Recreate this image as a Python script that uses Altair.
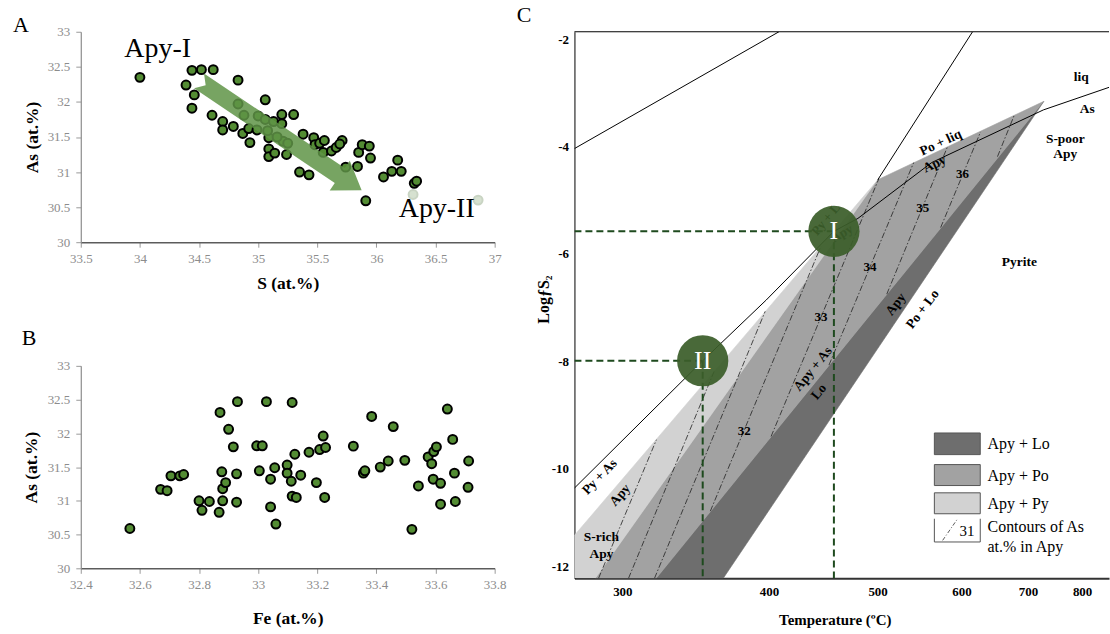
import altair as alt
import pandas as pd

FONT = "Liberation Serif"
PT_GREEN = "#538c33"
ARROW_GREEN = "#5f9446"
DISK_GREEN = "#3b5e2a"
GUIDE_GREEN = "#1e4a1e"
DARK, MID, LIGHT = "#6e6e6e", "#a2a2a2", "#d2d2d2"

# ---------------- Panel A : As vs S (at.%) ----------------
A_S = [34.00, 34.44, 34.52, 34.62, 34.83, 34.39, 34.46, 34.44, 34.61, 34.70,
       34.70, 34.79, 34.83, 34.88, 34.87, 34.92, 34.93, 35.00, 34.99, 35.06,
       35.06, 35.09, 35.09, 35.09, 35.14, 35.13, 35.20, 35.20, 35.21, 35.25,
       35.24, 35.30, 35.35, 35.43, 35.38, 35.47, 35.48, 35.52, 35.56, 35.55,
       35.62, 35.66, 35.71, 35.69, 35.74, 35.84, 35.85, 35.88, 35.94, 35.95,
       35.91, 36.06, 36.13, 36.21, 36.18, 36.32, 36.34, 35.08, 35.16]
A_As = [32.35, 32.45, 32.46, 32.46, 32.31, 32.24, 32.10, 31.91, 31.81, 31.72,
        31.60, 31.65, 31.97, 31.81, 31.55, 31.62, 31.42, 31.80, 31.60, 32.03,
        31.75, 31.49, 31.33, 31.22, 31.27, 31.72, 31.82, 31.69, 31.44, 31.41,
        31.25, 31.82, 31.00, 30.96, 31.54, 31.49, 31.39, 31.41, 31.45, 31.28,
        31.30, 31.35, 31.45, 31.40, 31.07, 31.08, 31.28, 31.39, 31.37, 31.20,
        30.59, 30.93, 31.01, 31.01, 31.17, 30.84, 30.87, 31.59, 31.50]
A_pale_S = [36.31, 36.86]
A_pale_As = [30.68, 30.60]
A_x_ticks = [33.5, 34, 34.5, 35, 35.5, 36, 36.5, 37]
A_y_ticks = [30, 30.5, 31, 31.5, 32, 32.5, 33]
# trend arrow outline (S, As)
A_arrow_S = [34.542, 35.732, 35.775, 35.875, 35.605, 35.648, 34.458, 34.556]
A_arrow_As = [32.406, 31.056, 31.162, 30.740, 30.738, 30.844, 32.194, 32.236]
A_group_labels = ["Apy-I", "Apy-II"]
A_group_S = [34.15, 36.51]
A_group_As = [32.75, 30.475]

# ---------------- Panel B : As vs Fe (at.%) ----------------
B_Fe = [32.566, 32.670, 32.692, 32.705, 32.735, 32.748, 32.80, 32.81, 32.835, 32.868,
        32.88, 32.88, 32.89, 32.877, 32.871, 32.90, 32.93, 32.916, 32.927, 32.927,
        32.995, 33.014, 33.004, 33.028, 33.042, 33.042, 33.056, 33.06, 33.098, 33.098,
        33.115, 33.112, 33.115, 33.129, 33.124, 33.144, 33.172, 33.197, 33.208, 33.22,
        33.228, 33.225, 33.322, 33.356, 33.361, 33.384, 33.413, 33.44, 33.457, 33.496,
        33.52, 33.542, 33.575, 33.587, 33.594, 33.603, 33.592, 33.617, 33.617, 33.64,
        33.658, 33.664, 33.667, 33.712, 33.71]
B_As = [30.59, 31.17, 31.15, 31.37, 31.37, 31.39, 31.00, 30.86, 30.99, 30.83,
        31.00, 31.18, 31.27, 31.43, 32.31, 32.06, 32.47, 31.80, 31.40, 30.98,
        31.815, 31.815, 31.445, 32.47, 31.32, 30.91, 31.49, 30.656, 31.53, 31.41,
        32.457, 31.29, 31.07, 31.05, 31.69, 31.38, 31.72, 31.27, 31.76, 31.96,
        31.79, 31.05, 31.81, 31.41, 31.445, 32.25, 31.50, 31.59, 32.10, 31.60,
        30.577, 31.22, 31.65, 31.55, 31.73, 31.80, 31.32, 31.26, 30.95, 32.36,
        31.91, 31.41, 30.99, 31.59, 31.20]
B_x_ticks = [32.4, 32.6, 32.8, 33, 33.2, 33.4, 33.6, 33.8]

# ---------------- Panel C : log fS2 vs T (1/T axis) ----------------
C_x_ticks = [300, 400, 500, 600, 700, 800]
C_y_ticks = [-2, -4, -6, -8, -10, -12]
C_T_range = [273.46, 857.7]
C_logf_range = [-12.04, -1.865]

C_light_T = [273.46, 273.46, 500.2, 284.9]
C_light_logf = [-12.04, -11.24, -4.62, -12.04]
C_mid_T = [500.2, 727.4, 320.5, 284.9]
C_mid_logf = [-4.62, -3.16, -12.04, -12.04]
C_dark_T = [727.4, 365.3, 320.5]
C_dark_logf = [-3.16, -12.04, -12.04]

C_line1_T = [273.46, 408.1]
C_line1_logf = [-4.04, -1.865]
C_line2_T = [615.3, 500.2]
C_line2_logf = [-1.865, -4.62]
C_curve_T = [273.46, 350.8, 397.8, 456.4, 479.7, 561.7, 726.5, 857.7]
C_curve_logf = [-10.36, -7.99, -6.86, -5.58, -5.34, -4.30, -3.32, -2.90]

C_cont_T1 = [286.5, 303.6, 319.3, 356.1, 401.7, 451.8, 509.8, 572.9, 651.5]
C_cont_L1 = [-12.04, -12.04, -12.04, -10.79, -9.40, -8.07, -6.75, -5.51, -4.19]
C_cont_T2 = [320.5, 358.9, 397.0, 444.4, 501.3, 540.1, 581.8, 626.6, 677.9]
C_cont_L2 = [-9.46, -8.18, -7.07, -5.86, -4.60, -4.30, -4.00, -3.73, -3.41]
C_cont_labels = ["32", "33", "34", "35", "36"]
C_cont_lab_T = [380.7, 444.4, 491.9, 550.8, 601.6]
C_cont_lab_L = [-9.29, -7.18, -6.25, -5.14, -4.52]

C_disk_labels = ["I", "II"]
C_disk_T = [456.4, 350.8]
C_disk_logf = [-5.58, -7.99]

C_text = ["liq", "As", "S-poor", "Apy", "Pyrite", "Po + liq", "Apy", "Po + Lo", "Apy",
          "Lo", "Apy + As", "Py + As", "Apy", "S-rich", "Apy"]
C_text_T = [798.3, 810.6, 766.9, 766.9, 685.9, 572.9, 565.4, 550.8, 519.7,
            442.6, 437.2, 287.1, 298.7, 288.1, 288.1]
C_text_logf = [-2.71, -3.30, -3.86, -4.15, -6.16, -3.93, -4.33, -7.03, -6.94,
               -8.57, -8.14, -10.15, -10.49, -11.28, -11.59]
C_text_angle = [0, 0, 0, 0, 0, 335, 335, 307, 307, 309, 309, 314, 311, 0, 0]
C_under_text = ["Py + L", "Apy"]
C_under_T = [449.0, 464.0]
C_under_logf = [-5.36, -5.62]
C_under_angle = [310, 330]

C_legend_labels = ["Apy + Lo", "Apy + Po", "Apy + Py", "Contours of As", "at.% in Apy"]
C_legend_value = "31"

U = "1000/(datum.T + 273.15)"
U2 = "1000/(datum.T2 + 273.15)"
ONE = pd.DataFrame({"k": [0]})


def txt(s):
    return pd.DataFrame({"t": [s]})


# ================= Panel A / B =================
def ab_axes(x_title, x_values, x_title_y, y_title_x, y_mid):
    ax = alt.Axis(values=x_values, title=x_title, grid=False, labelExpr="toString(datum.value)",
                  labelFlush=False, labelOverlap=False, labelFont=FONT, labelFontSize=13,
                  labelColor="#8c8c8c", labelPadding=5, tickSize=5, tickColor="#9a9a9a",
                  domainColor="#5c5c5c", domainWidth=1.5, titleFont=FONT, titleFontSize=17.5,
                  titleFontWeight="bold", titleColor="black", titleY=x_title_y,
                  titleBaseline="middle")
    ay = alt.Axis(values=A_y_ticks, title="As (at.%)", grid=False, labelExpr="toString(datum.value)",
                  labelFlush=False, labelOverlap=False, labelFont=FONT, labelFontSize=13,
                  labelColor="#8c8c8c", labelPadding=6, tickSize=5, tickColor="#9a9a9a",
                  domainColor="#8c8c8c", domainWidth=1.2, titleFont=FONT, titleFontSize=17.5,
                  titleFontWeight="bold", titleColor="black", titleX=y_title_x, titleY=y_mid,
                  titleBaseline="middle", titleAngle=270)
    return ax, ay


axA_x, axA_y = ab_axes("S (at.%)", A_x_ticks, 41, -48, 105.5)
xA = alt.X("S:Q", scale=alt.Scale(domain=[33.5, 37], nice=False, zero=False), axis=axA_x)
yA = alt.Y("As:Q", scale=alt.Scale(domain=[30, 33], nice=False, zero=False), axis=axA_y)

dfA = pd.DataFrame({"S": A_S, "As": A_As})
dfA_pale = pd.DataFrame({"S": A_pale_S, "As": A_pale_As})
dfA_arrow = pd.DataFrame({"S": A_arrow_S, "As": A_arrow_As, "i": list(range(len(A_arrow_S)))})
dfA_lab = pd.DataFrame({"S": A_group_S, "As": A_group_As, "label": A_group_labels})

anchor = alt.Chart(ONE).mark_rule(color="white", strokeWidth=1).encode(
    x=alt.value(-80.5), x2=alt.value(-79.5), y=alt.value(-30.5))

A_pts = alt.Chart(dfA).mark_point(shape="circle", filled=True, size=80, fill=PT_GREEN,
                                  stroke="black", strokeWidth=2, opacity=1).encode(x=xA, y=yA)
A_pale = alt.Chart(dfA_pale).mark_point(shape="circle", filled=True, size=80, fill="#d6e1d0",
                                        stroke="#c9d4c3", strokeWidth=2, opacity=1).encode(x=xA, y=yA)
A_arrow = alt.Chart(dfA_arrow).mark_line(fill=ARROW_GREEN, fillOpacity=0.85, strokeOpacity=0).encode(
    x=xA, y=yA, order="i:Q")
A_lab = alt.Chart(dfA_lab).mark_text(font=FONT, fontSize=28, color="black", align="center",
                                     baseline="middle").encode(x=xA, y=yA, text="label:N")
A_letter = alt.Chart(txt("A")).mark_text(font=FONT, fontSize=22, color="black", align="left",
                                         baseline="alphabetic").encode(
    x=alt.value(-68), y=alt.value(0), text="t:N")

chartA = alt.layer(anchor, A_pts, A_pale, A_arrow, A_lab, A_letter).properties(width=415, height=211)

axB_x, axB_y = ab_axes("Fe (at.%)", B_x_ticks, 50, -49, 101.5)
xB = alt.X("Fe:Q", scale=alt.Scale(domain=[32.4, 33.8], nice=False, zero=False), axis=axB_x)
yB = alt.Y("As:Q", scale=alt.Scale(domain=[30, 33], nice=False, zero=False), axis=axB_y)
dfB = pd.DataFrame({"Fe": B_Fe, "As": B_As})
B_pts = alt.Chart(dfB).mark_point(shape="circle", filled=True, size=80, fill=PT_GREEN,
                                  stroke="black", strokeWidth=2, opacity=1).encode(x=xB, y=yB)
B_letter = alt.Chart(txt("B")).mark_text(font=FONT, fontSize=22, color="black", align="left",
                                         baseline="alphabetic").encode(
    x=alt.value(-59.3), y=alt.value(-20.7), text="t:N")
chartB = alt.layer(B_pts, B_letter).properties(width=415, height=203)

# ================= Panel C =================
W_C, H_C = 536, 548
xC_scale = alt.Scale(domain=[1000 / (C_T_range[1] + 273.15), 1000 / (C_T_range[0] + 273.15)],
                     reverse=True, nice=False, zero=False)
yC_scale = alt.Scale(domain=C_logf_range, nice=False, zero=False)
xC_axis = alt.Axis(values=[1000 / (t + 273.15) for t in C_x_ticks],
                   labelExpr="format(1000/datum.value - 273.15, '.0f')",
                   title="Temperature (ºC)", grid=False, tickSize=0, labelPadding=7,
                   labelFlush=False, labelOverlap=False, labelFont=FONT, labelFontSize=13,
                   labelFontWeight="bold", labelColor="black", domainColor="#333333", domainWidth=2,
                   titleFont=FONT, titleFontSize=15, titleFontWeight="bold", titleColor="black",
                   titleX=261, titleY=41, titleBaseline="middle")
yC_axis = alt.Axis(values=C_y_ticks, labelExpr="toString(datum.value)", title="LogƒS₂",
                   grid=False, tickSize=0, labelPadding=6, labelFlush=False, labelOverlap=False,
                   labelOffset={"condition": {"test": "datum.value == -12", "value": -10}, "value": 0},
                   labelFont=FONT, labelFontSize=13, labelFontWeight="bold", labelColor="black",
                   domainColor="black", domainWidth=1, titleFont=FONT, titleFontSize=16,
                   titleFontWeight="bold", titleColor="black", titleX=-31, titleY=268,
                   titleBaseline="middle", titleAngle=270)
XC = alt.X("u:Q", scale=xC_scale, axis=xC_axis)
YC = alt.Y("logf:Q", scale=yC_scale, axis=yC_axis)


def poly(T, L, color):
    df = pd.DataFrame({"T": T, "logf": L, "i": list(range(len(T)))})
    return alt.Chart(df).transform_calculate(u=U).mark_line(
        fill=color, stroke=color, strokeWidth=0.6, clip=True).encode(x=XC, y=YC, order="i:Q")


def polyline(T, L, width=1.0):
    df = pd.DataFrame({"T": T, "logf": L, "i": list(range(len(T)))})
    return alt.Chart(df).transform_calculate(u=U).mark_line(
        color="black", strokeWidth=width, clip=True).encode(x=XC, y=YC, order="i:Q")


dfCont = pd.DataFrame({"T": C_cont_T1, "logf": C_cont_L1, "T2": C_cont_T2, "logf2": C_cont_L2})
C_cont = alt.Chart(dfCont).transform_calculate(u=U, u2=U2).mark_rule(
    color="#222222", strokeWidth=0.8, strokeDash=[6, 2, 1.5, 2], clip=True).encode(
    x=XC, x2=alt.X2("u2:Q"), y=YC, y2=alt.Y2("logf2:Q"))

dfGuide = pd.DataFrame({
    "T": [C_T_range[0], C_disk_T[0], C_T_range[0], C_disk_T[1]],
    "T2": [C_disk_T[0], C_disk_T[0], C_disk_T[1], C_disk_T[1]],
    "logf": [C_disk_logf[0], C_disk_logf[0], C_disk_logf[1], C_disk_logf[1]],
    "logf2": [C_disk_logf[0], C_logf_range[0], C_disk_logf[1], C_logf_range[0]],
})
C_guides = alt.Chart(dfGuide).transform_calculate(u=U, u2=U2).mark_rule(
    color=GUIDE_GREEN, strokeWidth=2, strokeDash=[7, 4], clip=True).encode(
    x=XC, x2=alt.X2("u2:Q"), y=YC, y2=alt.Y2("logf2:Q"))

dfContLab = pd.DataFrame({"T": C_cont_lab_T, "logf": C_cont_lab_L, "t": C_cont_labels})
C_cont_lab = alt.Chart(dfContLab).transform_calculate(u=U).mark_text(
    font=FONT, fontSize=13, fontWeight="bold", color="black").encode(x=XC, y=YC, text="t:N")

dfText = pd.DataFrame({"T": C_text_T, "logf": C_text_logf, "t": C_text, "ang": C_text_angle})
C_texts = alt.Chart(dfText).transform_calculate(u=U).mark_text(
    font=FONT, fontSize=13.5, fontWeight="bold", color="black", baseline="middle").encode(
    x=XC, y=YC, text="t:N", angle=alt.Angle("ang:Q", scale=None))

dfUnder = pd.DataFrame({"T": C_under_T, "logf": C_under_logf, "t": C_under_text, "ang": C_under_angle})
C_under = alt.Chart(dfUnder).transform_calculate(u=U).mark_text(
    font=FONT, fontSize=13, fontWeight="bold", color="black", baseline="middle").encode(
    x=XC, y=YC, text="t:N", angle=alt.Angle("ang:Q", scale=None))

dfDisk = pd.DataFrame({"T": C_disk_T, "logf": C_disk_logf, "t": C_disk_labels})
C_disks = alt.Chart(dfDisk).transform_calculate(u=U).mark_point(
    shape="circle", filled=True, size=2640, fill=DISK_GREEN, opacity=0.93, strokeOpacity=0).encode(
    x=XC, y=YC)
C_disk_lab = alt.Chart(dfDisk).transform_calculate(u=U).mark_text(
    font=FONT, fontSize=26, color="white", baseline="middle").encode(x=XC, y=YC, text="t:N")

frame_top = alt.Chart(ONE).mark_rule(color="black", strokeWidth=1).encode(
    x=alt.value(0), x2=alt.value(W_C), y=alt.value(0))
C_letter = alt.Chart(txt("C")).mark_text(font=FONT, fontSize=22, color="black", align="left",
                                         baseline="alphabetic").encode(
    x=alt.value(-57.8), y=alt.value(-10), text="t:N")


def lrect(y1, y2, fill):
    return alt.Chart(ONE).mark_rect(fill=fill, stroke="#555555", strokeWidth=1).encode(
        x=alt.value(360.9), x2=alt.value(406.9), y=alt.value(y1), y2=alt.value(y2))


def ltext(s, y, x=414.2, size=16):
    return alt.Chart(txt(s)).mark_text(font=FONT, fontSize=size, color="black", align="left",
                                       baseline="middle").encode(
        x=alt.value(x), y=alt.value(y), text="t:N")


def lrule(x1, x2, y1, y2, dash=None, color="#555555", width=1):
    kw = dict(color=color, strokeWidth=width)
    if dash:
        kw["strokeDash"] = dash
    return alt.Chart(ONE).mark_rule(**kw).encode(
        x=alt.value(x1), x2=alt.value(x2), y=alt.value(y1), y2=alt.value(y2))


legend = [
    lrect(402.3, 424, DARK), lrect(434, 455, MID), lrect(462.3, 483.3, LIGHT),
    lrule(360.9, 360.9, 488.3, 511.6), lrule(360.9, 406.9, 511.6, 511.6),
    lrule(406.9, 406.9, 488.3, 511.6),
    lrule(369.2, 384.2, 510, 488.3, dash=[4, 2, 1, 2], color="#333333", width=0.8),
    ltext(C_legend_value, 501, x=386, size=15),
    ltext(C_legend_labels[0], 413.3), ltext(C_legend_labels[1], 445),
    ltext(C_legend_labels[2], 473.3), ltext(C_legend_labels[3], 496.6),
    ltext(C_legend_labels[4], 516.6),
]

chartC = alt.layer(
    poly(C_light_T, C_light_logf, LIGHT),
    poly(C_mid_T, C_mid_logf, MID),
    poly(C_dark_T, C_dark_logf, DARK),
    C_cont,
    polyline(C_line1_T, C_line1_logf),
    polyline(C_line2_T, C_line2_logf),
    polyline(C_curve_T, C_curve_logf),
    C_cont_lab,
    C_texts,
    C_under,
    C_guides,
    C_disks,
    C_disk_lab,
    frame_top,
    C_letter,
    *legend,
).properties(width=W_C, height=H_C)

left = alt.vconcat(chartA, chartB, spacing=124, bounds="flush")
chart = alt.hconcat(left, chartC, spacing=495, bounds="flush").properties(
    padding={"left": 0, "top": 0, "right": 0, "bottom": 0}
).configure(font=FONT, background="white").configure_view(stroke=None)

chart.save("out.html", embed_options={"renderer": "svg", "actions": False})
